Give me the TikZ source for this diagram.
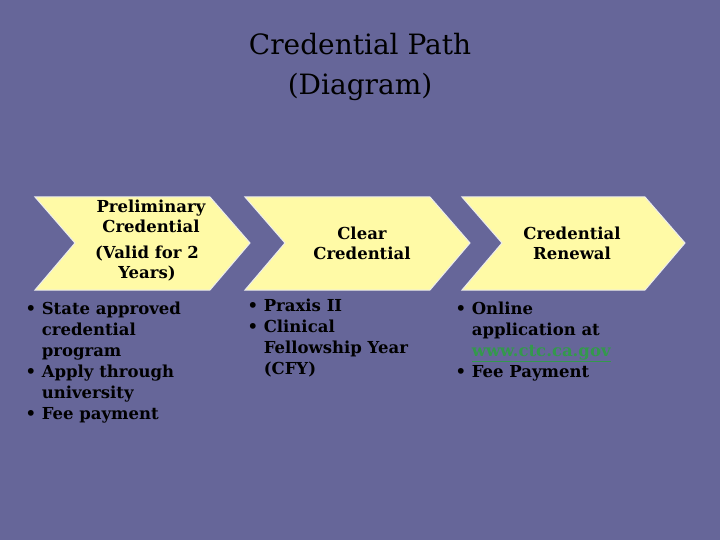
\documentclass[tikz,border=0pt]{standalone}
\usepackage{fontspec}
\setmainfont{DejaVu Serif}
\begin{document}
\begin{tikzpicture}[x=1pt,y=-1pt,
  chev/.style={fill=yellow!35!white,draw=white!85!gray,line width=1pt},
  head/.style={font=\bfseries\fontsize{16.5}{20}\selectfont,align=center,text=black},
  bul/.style={font=\bfseries\fontsize{16.5}{21}\selectfont,align=left,anchor=north west,text=black}]
\fill[fill={rgb,255:red,102;green,102;blue,153}] (0,0) rectangle (720,540);
\useasboundingbox (0,0) rectangle (720,540);
\node[font=\fontsize{28}{40}\selectfont,align=center] (title) at (360,67) {Credential Path\\(Diagram)};
\draw[chev] (35,197) -- (210,197) -- (250,243) -- (210,290) -- (35,290) -- (75,243) -- cycle;
\draw[chev] (245,197) -- (430,197) -- (470,243) -- (430,290) -- (245,290) -- (285,243) -- cycle;
\draw[chev] (462,197) -- (645,197) -- (685,243) -- (645,290) -- (462,290) -- (502,243) -- cycle;
\node[head] (h1a) at (151,216) {Preliminary\\Credential};
\node[head] (h1b) at (147,264) {(Valid for 2\\Years)};
\node[head] (h2) at (362,243) {Clear\\Credential};
\node[head] (h3) at (572,243) {Credential\\Renewal};
\node[bul] (b1) at (22,298) {\textbullet\ State approved\\\phantom{\textbullet\ }credential\\\phantom{\textbullet\ }program\\\textbullet\ Apply through\\\phantom{\textbullet\ }university\\\textbullet\ Fee payment};
\node[bul] (b2) at (244,295) {\textbullet\ Praxis II\\\textbullet\ Clinical\\\phantom{\textbullet\ }Fellowship Year\\\phantom{\textbullet\ }(CFY)};
\node[bul] (b3) at (452,298) {\textbullet\ Online\\\phantom{\textbullet\ }application at\\\phantom{\textbullet\ }{\color[rgb]{0.2,0.6,0.3}\underline{www.ctc.ca.gov}}\\\textbullet\ Fee Payment};
\end{tikzpicture}
\end{document}
